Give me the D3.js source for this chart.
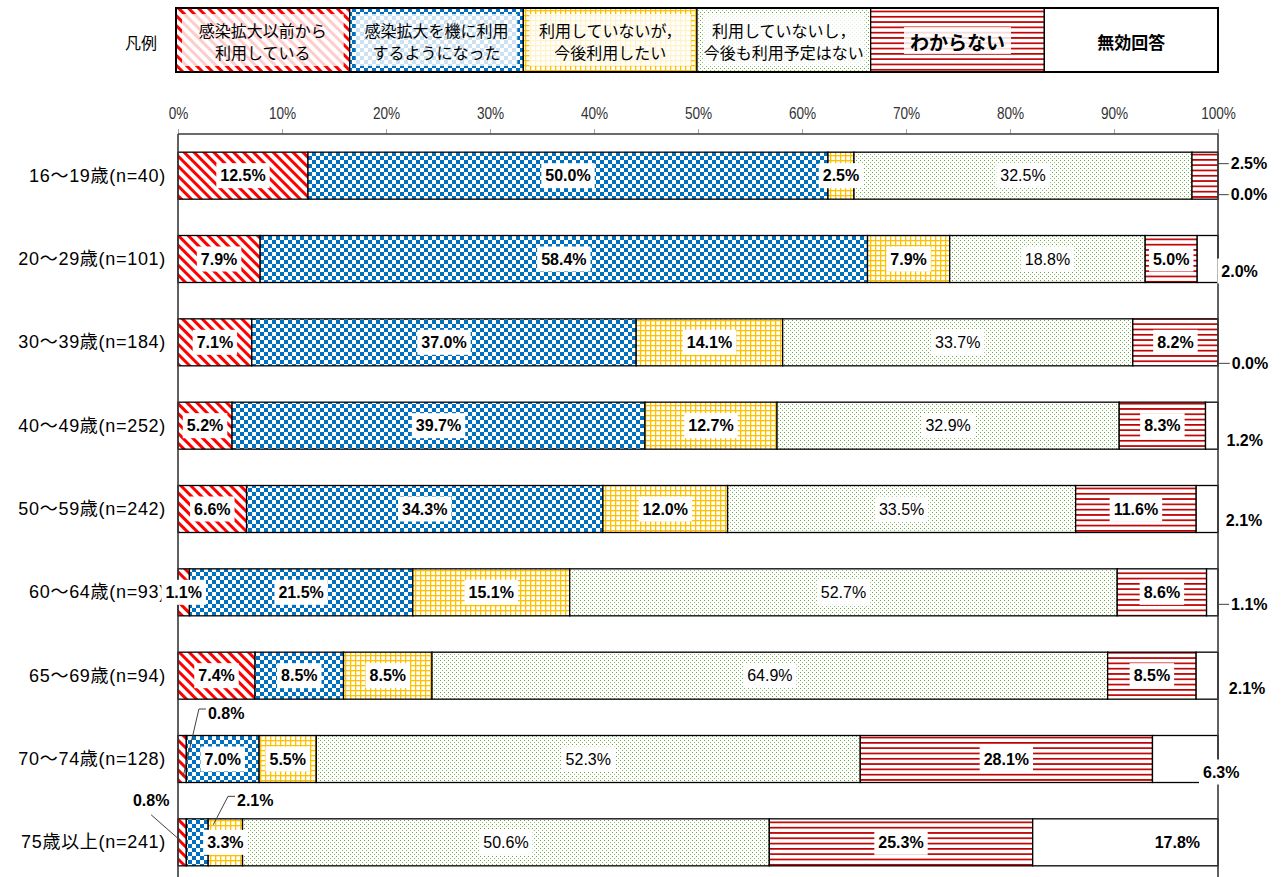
<!DOCTYPE html>
<html>
<head>
<meta charset="utf-8">
<script src="https://cdn.jsdelivr.net/npm/d3@7"></script>
<style>
  html, body { margin: 0; padding: 0; background: #fff; }
  svg { display: block; }
  text { font-family: "Liberation Sans", "Noto Sans CJK JP", sans-serif; }
  .jp { font-family: "Noto Sans CJK JP", "Liberation Sans", sans-serif; }
</style>
</head>
<body>
<svg id="chart" width="1282" height="877"></svg>
<script>
// ---- data -------------------------------------------------------------
const categories = [
  "16～19歳(n=40)", "20～29歳(n=101)", "30～39歳(n=184)", "40～49歳(n=252)",
  "50～59歳(n=242)", "60～64歳(n=93)", "65～69歳(n=94)", "70～74歳(n=128)",
  "75歳以上(n=241)"
];
const seriesKeys = ["before", "started", "want", "noPlan", "unknown", "invalid"];
const legendLabels = [
  ["感染拡大以前から", "利用している"],
  ["感染拡大を機に利用", "するようになった"],
  ["利用していないが，", "今後利用したい"],
  ["利用していないし，", "今後も利用予定はない"],
  ["わからない"],
  ["無効回答"]
];
const usedBefore    = [12.5, 7.9, 7.1, 5.2, 6.6, 1.1, 7.4, 0.8, 0.8];
const startedDuring = [50.0, 58.4, 37.0, 39.7, 34.3, 21.5, 8.5, 7.0, 2.1];
const wantToUse     = [2.5, 7.9, 14.1, 12.7, 12.0, 15.1, 8.5, 5.5, 3.3];
const noPlans       = [32.5, 18.8, 33.7, 32.9, 33.5, 52.7, 64.9, 52.3, 50.6];
const dontKnow      = [2.5, 5.0, 8.2, 8.3, 11.6, 8.6, 8.5, 28.1, 25.3];
const invalidAns    = [0.0, 2.0, 0.0, 1.2, 2.1, 1.1, 2.1, 6.3, 17.8];
const tickValues = [0, 10, 20, 30, 40, 50, 60, 70, 80, 90, 100];
const tickLabels = ["0%", "10%", "20%", "30%", "40%", "50%", "60%", "70%", "80%", "90%", "100%"];

const seriesValues = [usedBefore, startedDuring, wantToUse, noPlans, dontKnow, invalidAns];
const rows = categories.map((c, i) => {
  const r = { category: c };
  seriesKeys.forEach((k, s) => { r[k] = seriesValues[s][i]; });
  return r;
});

// ---- layout -----------------------------------------------------------
const plot = { left: 178, right: 1218, top: 134, bottom: 884 };
const svg = d3.select("#chart");

const x = d3.scaleLinear().domain([0, 1]).range([plot.left, plot.right]);
const y = d3.scaleBand().domain(categories)
  .range([plot.top, plot.bottom]).paddingInner(0.436).paddingOuter(0.218);
const legendX = d3.scaleBand().domain(seriesKeys).range([176, 1218]);

// ---- fill patterns ------------------------------------------------------
const defs = svg.append("defs");
function pattern(id, w, h, transform) {
  const p = defs.append("pattern").attr("id", id)
    .attr("patternUnits", "userSpaceOnUse").attr("width", w).attr("height", h);
  if (transform) p.attr("patternTransform", transform);
  p.append("rect").attr("width", w).attr("height", h).attr("fill", "#fff");
  return p;
}
// wide downward diagonal, red
pattern("pat-before", 7, 7, "rotate(-45)")
  .append("rect").attr("width", 3).attr("height", 7).attr("fill", "#ff0000");
// checkerboard, blue
const chk = pattern("pat-started", 8, 8);
chk.append("rect").attr("width", 4).attr("height", 4).attr("fill", "#0070c0");
chk.append("rect").attr("x", 4).attr("y", 4).attr("width", 4).attr("height", 4).attr("fill", "#0070c0");
// small grid, amber
const grd = pattern("pat-want", 5, 5);
grd.append("rect").attr("width", 5).attr("height", 1.3).attr("fill", "#ffc000");
grd.append("rect").attr("width", 1.3).attr("height", 5).attr("fill", "#ffc000");
// dotted, green
const dot = pattern("pat-noPlan", 4, 4);
dot.append("rect").attr("width", 1).attr("height", 1).attr("fill", "#6aaa3c");
dot.append("rect").attr("x", 2).attr("y", 2).attr("width", 1).attr("height", 1).attr("fill", "#8cc265");
// horizontal lines, dark red
pattern("pat-unknown", 6, 5.3)
  .append("rect").attr("width", 6).attr("height", 1.7).attr("fill", "#c00000");
// plain
pattern("pat-invalid", 4, 4);

// ---- legend -------------------------------------------------------------
svg.append("text").attr("class", "jp")
  .attr("x", 141).attr("y", 42).attr("text-anchor", "middle")
  .attr("dominant-baseline", "central").attr("font-size", 16).attr("fill", "#000")
  .text("凡例");

const legTop = 8, legH = 64;
const leg = svg.append("g");
const cells = leg.selectAll("g.cell").data(seriesKeys).join("g").attr("class", "cell");
cells.append("rect")
  .attr("x", d => legendX(d)).attr("y", legTop)
  .attr("width", legendX.bandwidth()).attr("height", legH)
  .attr("fill", d => `url(#pat-${d})`);
cells.filter((d, i) => i < 4).append("rect")
  .attr("x", d => legendX(d) + 6).attr("y", legTop + 6)
  .attr("width", legendX.bandwidth() - 12).attr("height", legH - 12)
  .attr("fill", "#fff").attr("opacity", 0.8);
cells.each(function (d, i) {
  const g = d3.select(this);
  const cx = legendX(d) + legendX.bandwidth() / 2;
  const lines = legendLabels[i];
  if (lines.length === 2) {
    lines.forEach((t, j) => {
      g.append("text").attr("class", "jp")
        .attr("x", cx).attr("y", legTop + 22 + j * 22)
        .attr("text-anchor", "middle").attr("dominant-baseline", "central")
        .attr("font-size", 16).attr("fill", "#000").text(t);
    });
  } else {
    const t = g.append("text").attr("class", "jp")
      .attr("x", cx).attr("y", legTop + legH / 2 + 1)
      .attr("text-anchor", "middle").attr("dominant-baseline", "central")
      .attr("font-size", i === 4 ? 19 : 17).attr("font-weight", "bold")
      .attr("fill", "#000").text(lines[0]);
    if (i === 4) {
      const w = t.node().getComputedTextLength();
      g.insert("rect", "text")
        .attr("x", cx - w / 2 - 6).attr("y", legTop + 19)
        .attr("width", w + 12).attr("height", 27)
        .attr("fill", "#fff").attr("opacity", 0.85);
    }
  }
});
cells.append("rect")
  .attr("x", d => legendX(d)).attr("y", legTop)
  .attr("width", legendX.bandwidth()).attr("height", legH)
  .attr("fill", "none").attr("stroke", "#000").attr("stroke-width", 1.3);
leg.append("rect").attr("x", 176).attr("y", legTop).attr("width", 1218 - 176).attr("height", legH)
  .attr("fill", "none").attr("stroke", "#000").attr("stroke-width", 2);

// ---- axis ---------------------------------------------------------------
const axis = svg.append("g").attr("transform", `translate(0,${plot.top})`)
  .call(d3.axisTop(x)
    .tickValues(tickValues.map(v => v / 100))
    .tickFormat((d, i) => tickLabels[i])
    .tickSize(5).tickPadding(10));
axis.select(".domain").remove();
axis.selectAll(".tick line").attr("stroke", "#a6a6a6");
axis.selectAll(".tick text")
  .attr("font-family", "'Liberation Sans', sans-serif")
  .attr("font-size", 17).attr("fill", "#333")
  .attr("transform", "scale(0.8,1)");

// ---- category labels ----------------------------------------------------
svg.append("g").selectAll("text").data(categories).join("text")
  .attr("x", 166).attr("y", d => y(d) + y.bandwidth() / 2)
  .attr("text-anchor", "end").attr("dominant-baseline", "central")
  .attr("font-size", 18).attr("letter-spacing", 0.7).attr("fill", "#000")
  .text(d => d);

// ---- stacked bars -------------------------------------------------------
const stacked = d3.stack().keys(seriesKeys).offset(d3.stackOffsetExpand)(rows);

const barG = svg.append("g");
barG.selectAll("g").data(stacked).join("g")
  .attr("fill", s => `url(#pat-${s.key})`)
  .selectAll("rect").data(s => s).join("rect")
  .attr("x", d => x(d[0])).attr("width", d => x(d[1]) - x(d[0]))
  .attr("y", d => y(d.data.category)).attr("height", y.bandwidth())
  .attr("stroke", "#000").attr("stroke-width", 1.3);

// plot frame
const frame = svg.append("g").attr("stroke", "#3a3a3a").attr("stroke-width", 1.6);
frame.append("line").attr("x1", plot.left).attr("x2", plot.right).attr("y1", plot.top).attr("y2", plot.top);
frame.append("line").attr("x1", plot.left).attr("x2", plot.left).attr("y1", plot.top).attr("y2", plot.bottom);
frame.append("line").attr("x1", plot.right).attr("x2", plot.right).attr("y1", plot.top).attr("y2", plot.bottom);

// ---- value labels -------------------------------------------------------
// label offsets (px) from the segment centre, plus leader line style
const labelPlacement = {
  "0-unknown": { dx: 44, dy: -12, leader: "right" },
  "0-invalid": { dx: 31, dy: 19, leader: "right" },
  "1-invalid": { dx: 32, dy: 12 },
  "2-invalid": { dx: 32, dy: 21, leader: "right" },
  "3-invalid": { dx: 33, dy: 15 },
  "4-invalid": { dx: 37, dy: 11 },
  "5-invalid": { dx: 37, dy: 12, leader: "right" },
  "6-invalid": { dx: 40, dy: 13 },
  "7-invalid": { dx: 36, dy: 13 },
  "8-invalid": { dx: 52, dy: 0 },
  "7-before": { dx: 44, dy: -46, leader: "above" },
  "8-before": { dx: -31, dy: -42, leader: "left" },
  "8-started": { dx: 58, dy: -42, leader: "above" }
};

const labelG = svg.append("g");
const leaderG = svg.append("g").attr("fill", "none").attr("stroke", "#404040").attr("stroke-width", 1);
const boxG = labelG.append("g");
const textG = labelG.append("g");

stacked.forEach((layer, s) => {
  layer.forEach((d, i) => {
    const val = seriesValues[s][i];
    const key = `${i}-${layer.key}`;
    const p = labelPlacement[key] || { dx: 0, dy: 0 };
    const segCx = (x(d[0]) + x(d[1])) / 2;
    const barTop = y(d.data.category);
    const barBot = barTop + y.bandwidth();
    const cy = barTop + y.bandwidth() / 2;
    const lx = segCx + p.dx, ly = cy + p.dy;
    const t = textG.append("text")
      .attr("x", lx).attr("y", ly)
      .attr("text-anchor", "middle").attr("dominant-baseline", "central")
      .attr("font-size", 16).attr("fill", "#000")
      .attr("font-weight", layer.key === "noPlan" ? "normal" : "bold")
      .text(val.toFixed(1) + "%");
    const w = t.node().getComputedTextLength();
    const bx = lx - w / 2 - 4, bw = w + 8, bh = 25;
    boxG.append("rect").attr("x", bx).attr("y", ly - bh / 2)
      .attr("width", bw).attr("height", bh).attr("fill", "#fff");
    if (p.leader === "right") {
      leaderG.append("line").attr("x1", x(1)).attr("x2", bx + 2).attr("y1", ly).attr("y2", ly);
    } else if (p.leader === "above") {
      leaderG.append("polyline").attr("points", [
        [bx + 2, ly - 4], [bx - 5, ly - 4],
        [layer.key === "before" ? segCx + 1 : x(d[1]) + 5, layer.key === "before" ? barBot - 6 : barTop + 6]
      ].map(q => q.join(",")).join(" "));
    } else if (p.leader === "left") {
      leaderG.append("line").attr("x1", lx).attr("y1", ly + bh / 2 + 2)
        .attr("x2", segCx - 2).attr("y2", cy - 2);
    }
  });
});
</script>
</body>
</html>
